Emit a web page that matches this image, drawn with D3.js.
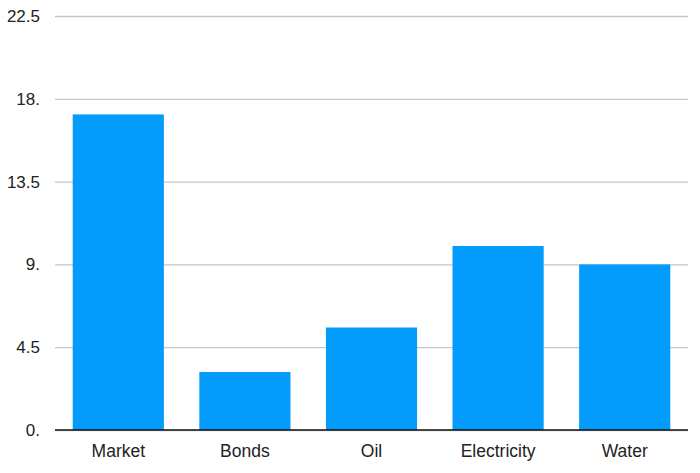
<!DOCTYPE html>
<html>
<head>
<meta charset="utf-8">
<script src="https://cdn.jsdelivr.net/npm/d3@7"></script>
<style>
  html, body { margin: 0; padding: 0; background: #fff; }
  svg { display: block; }
  text { font-family: "Liberation Sans", Arial, sans-serif; }
</style>
</head>
<body>
<svg id="chart" width="700" height="473"></svg>
<script>
const categories = ["Market", "Bonds", "Oil", "Electricity", "Water"];
const values = [17.15, 3.15, 5.57, 10.0, 9.0];
const yTicks = [0, 4.5, 9, 13.5, 18, 22.5];
const yTickLabels = ["0.", "4.5", "9.", "13.5", "18.", "22.5"];

const svg = d3.select("#chart");
const margin = { left: 55, right: 12, top: 16, bottom: 43 };
const W = 700, H = 473;

const x = d3.scaleBand()
  .domain(categories)
  .range([margin.left, W - margin.right])
  .paddingInner(0.28)
  .paddingOuter(0.14);

const y = d3.scaleLinear()
  .domain([0, 22.5])
  .range([H - margin.bottom, margin.top]);

// gridlines
const yAxis = d3.axisLeft(y)
  .tickValues(yTicks)
  .tickSize(-(W - margin.right - margin.left))
  .tickFormat((d, i) => yTickLabels[i]);

const gy = svg.append("g")
  .attr("transform", `translate(${margin.left},0)`)
  .call(yAxis);
gy.select(".domain").remove();
gy.selectAll(".tick line").attr("stroke", "#c6c6c6").attr("stroke-width", 1.3);
gy.selectAll(".tick text")
  .attr("x", -15)
  .attr("fill", "#222")
  .attr("font-size", 17);

// bars
svg.append("g").selectAll("rect")
  .data(categories)
  .join("rect")
  .attr("x", d => x(d))
  .attr("width", x.bandwidth())
  .attr("y", (d, i) => y(values[i]))
  .attr("height", (d, i) => y(0) - y(values[i]))
  .attr("fill", "#039cfc");

// baseline + x labels
const xAxis = d3.axisBottom(x).tickSize(0).tickPadding(15);
const gx = svg.append("g")
  .attr("transform", `translate(0,${y(0)})`)
  .call(xAxis);
gx.select(".domain").remove();
gx.selectAll(".tick text").attr("fill", "#222").attr("font-size", 17.5);
svg.append("line")
  .attr("x1", margin.left).attr("x2", W - margin.right)
  .attr("y1", y(0)).attr("y2", y(0))
  .attr("stroke", "#111").attr("stroke-width", 1.5);
</script>
</body>
</html>
